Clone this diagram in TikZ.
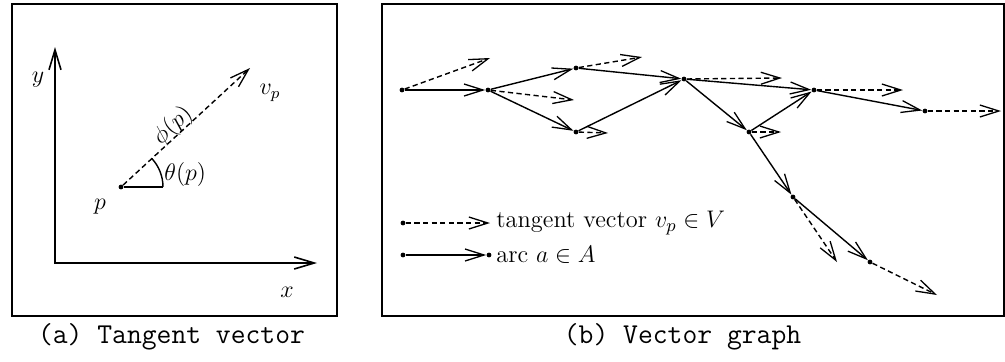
\documentclass[tikz,border=0pt]{standalone}
\usetikzlibrary{arrows.meta}
\begin{document}
\begin{tikzpicture}[x=0.5pt,y=-0.5pt,
  ndot/.style={circle,fill=black,inner sep=0pt,minimum size=2.4pt},
  arcline/.style={line width=0.7pt,-{Straight Barb[length=9.5pt,width=6pt,line width=0.65pt]}},
  tanline/.style={line width=0.7pt,dash pattern=on 2.6pt off 1.7pt,-{Straight Barb[length=9.5pt,width=6pt,line width=0.65pt]}},
  axisline/.style={line width=1.1pt,{Straight Barb[length=10pt,width=6pt,line width=0.8pt]}-{Straight Barb[length=10pt,width=6pt,line width=0.8pt]}},
  framebox/.style={line width=0.9pt},
  lbl/.style={font=\fontsize{11.8}{14}\selectfont,inner sep=1pt},
  legtext/.style={font=\fontsize{12.2}{14}\selectfont,inner sep=0pt,anchor=west},
  captext/.style={font=\fontsize{14.4}{17}\selectfont\ttfamily}]
\useasboundingbox (0,0) rectangle (1005,361);
% frames
\draw[framebox] (12,4) rectangle (337,316);
\draw[framebox] (382,4) rectangle (1004,316);
% ---------------- (a) ----------------
\coordinate (yt) at (55,47);
\coordinate (O) at (55,263);
\coordinate (xt) at (317,263);
\draw[axisline] (yt) -- (O) -- (xt);
\node[lbl] (ylab) at (38,80) {$y$};
\node[lbl] (xlab) at (287,292) {$x$};
\node[ndot] (p) at (121,187) {};
\node[lbl] (plab) at (100,207) {$p$};
\coordinate (vp) at (250,68);
\draw[tanline] (p) -- (vp);
\node[lbl] (vplab) at (270,93) {$v_p$};
\coordinate (h) at (163,187);
\draw[line width=0.7pt] (p) -- (h);
\draw[line width=0.7pt] (h) arc[start angle=0,end angle=42.7,radius=21pt];
\node[lbl,anchor=west] (thlab) at (162,174) {$\theta(p)$};
\node[lbl,rotate=42.7] (philab) at (173,126) {$\phi(p)$};
\node[captext] (capa) at (171.5,337) {(a) Tangent vector};
% ---------------- (b) ----------------
\node[ndot] (n1) at (402,90) {};
\node[ndot] (n2) at (488,90) {};
\node[ndot] (n3) at (576,68) {};
\node[ndot] (n4) at (576,132) {};
\node[ndot] (n5) at (684,79) {};
\node[ndot] (n6) at (814,90) {};
\node[ndot] (n7) at (925,111) {};
\node[ndot] (n8) at (749,132) {};
\node[ndot] (n9) at (793,197) {};
\node[ndot] (n10) at (870,262) {};
% arcs
\draw[arcline] (n1) -- (n2);
\draw[arcline] (n2) -- (n3);
\draw[arcline] (n2) -- (n4);
\draw[arcline] (n3) -- (n5);
\draw[arcline] (n4) -- (n5);
\draw[arcline] (n5) -- (n6);
\draw[arcline] (n5) -- (n8);
\draw[arcline] (n8) -- (n6);
\draw[arcline] (n6) -- (n7);
\draw[arcline] (n8) -- (n9);
\draw[arcline] (n9) -- (n10);
% tangent vectors
\coordinate (t1) at (490,58);
\coordinate (t2) at (574,100);
\coordinate (t3) at (642,57);
\coordinate (t4) at (608,133);
\coordinate (t5) at (782,78);
\coordinate (t6) at (903,90);
\coordinate (t7) at (1001,111);
\coordinate (t8) at (781,132);
\coordinate (t9) at (837,262);
\coordinate (t10) at (937,295);
\draw[tanline] (n1) -- (t1);
\draw[tanline] (n2) -- (t2);
\draw[tanline] (n3) -- (t3);
\draw[tanline] (n4) -- (t4);
\draw[tanline] (n5) -- (t5);
\draw[tanline] (n6) -- (t6);
\draw[tanline] (n7) -- (t7);
\draw[tanline] (n8) -- (t8);
\draw[tanline] (n9) -- (t9);
\draw[tanline] (n10) -- (t10);
% legend
\node[ndot] (la) at (403,223) {};
\coordinate (lb) at (490,223);
\draw[tanline] (la) -- (lb);
\node[legtext] (ltan) at (496,223) {tangent vector $v_p\in V$};
\node[ndot] (lc) at (403,255) {};
\node[ndot] (ld) at (489,255) {};
\draw[arcline] (lc) -- (ld);
\node[legtext] (larc) at (496,255) {arc $a\in A$};
\node[captext] (capb) at (682.5,337) {(b) Vector graph};
\end{tikzpicture}
\end{document}
